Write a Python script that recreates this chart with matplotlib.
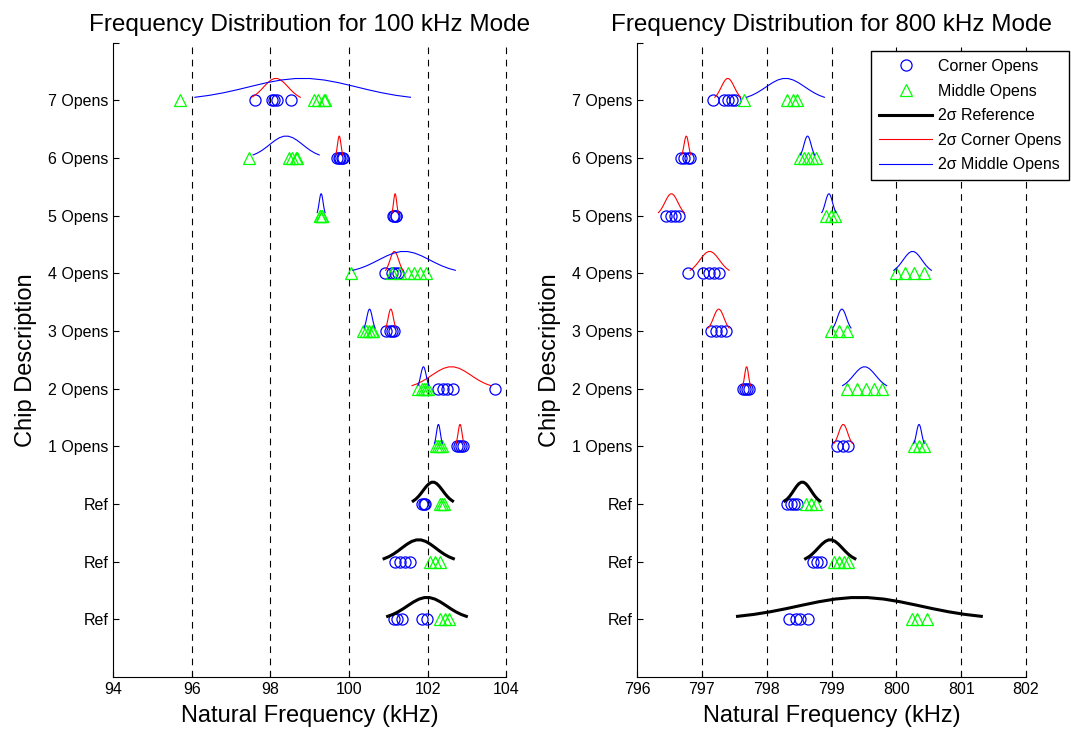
import numpy as np
import matplotlib
matplotlib.use("Agg")
import matplotlib.pyplot as plt
from matplotlib.lines import Line2D

plt.rcParams["font.family"] = ["Liberation Sans", "DejaVu Sans"]

# rows from the bottom: three reference chips, then 1..7 opens
row_labels = ["Ref", "Ref", "Ref", "1 Opens", "2 Opens", "3 Opens",
              "4 Opens", "5 Opens", "6 Opens", "7 Opens"]

# ---- 100 kHz mode (kHz), one list per row ----
corner_100 = [
    [101.13, 101.23, 101.34, 101.85, 101.98],
    [101.17, 101.30, 101.42, 101.55],
    [101.85, 101.90, 101.93],
    [102.75, 102.80, 102.85, 102.90],
    [102.27, 102.38, 102.48, 102.65, 103.71],
    [100.95, 101.05, 101.10, 101.15],
    [100.92, 101.10, 101.17, 101.25],
    [101.12, 101.15, 101.18, 101.20],
    [99.70, 99.75, 99.78, 99.82, 99.85],
    [97.61, 98.05, 98.10, 98.17, 98.52],
]
middle_100 = [
    [102.31, 102.44, 102.53],
    [102.06, 102.19, 102.32],
    [102.30, 102.36, 102.42],
    [102.20, 102.25, 102.30, 102.35],
    [101.75, 101.85, 101.90, 101.95, 102.00],
    [100.35, 100.42, 100.50, 100.58, 100.62],
    [100.06, 101.10, 101.30, 101.50, 101.65, 101.80, 101.95],
    [99.25, 99.27, 99.30, 99.32],
    [97.45, 98.47, 98.55, 98.64, 98.68],
    [95.70, 99.10, 99.20, 99.35, 99.40],
]
ref_mean_100 = [101.98, 101.77, 102.13]
ref_sigma_100 = [0.50, 0.44, 0.25]
corner_mean_100 = [102.82, 102.60, 101.06, 101.15, 101.17, 99.75, 98.14]
corner_sigma_100 = [0.05, 0.50, 0.065, 0.11, 0.04, 0.045, 0.31]
middle_mean_100 = [102.27, 101.89, 100.52, 101.40, 99.29, 98.40, 98.82]
middle_sigma_100 = [0.05, 0.07, 0.07, 0.65, 0.05, 0.42, 1.37]

# ---- 800 kHz mode (kHz) ----
corner_800 = [
    [798.34, 798.45, 798.52, 798.63],
    [798.72, 798.78, 798.84],
    [798.31, 798.37, 798.42, 798.47],
    [799.09, 799.17, 799.25],
    [797.63, 797.66, 797.70, 797.73],
    [797.14, 797.22, 797.29, 797.38],
    [796.78, 797.01, 797.11, 797.19, 797.27],
    [796.45, 796.52, 796.58, 796.65],
    [796.68, 796.73, 796.78, 796.82],
    [797.17, 797.34, 797.41, 797.46, 797.51],
]
middle_800 = [
    [800.24, 800.32, 800.48],
    [799.04, 799.11, 799.19, 799.25],
    [798.60, 798.68, 798.76],
    [800.27, 800.35, 800.42],
    [799.24, 799.40, 799.53, 799.65, 799.78],
    [798.99, 799.11, 799.24],
    [799.99, 800.14, 800.27, 800.42],
    [798.91, 798.99, 799.06],
    [798.52, 798.58, 798.64, 798.70, 798.76],
    [797.65, 798.32, 798.40, 798.47],
]
ref_mean_800 = [799.43, 798.98, 798.55]
ref_sigma_800 = [0.94, 0.19, 0.135]
corner_mean_800 = [799.18, 797.69, 797.26, 797.12, 796.53, 796.76, 797.40]
corner_sigma_800 = [0.07, 0.03, 0.08, 0.15, 0.10, 0.035, 0.10]
middle_mean_800 = [800.35, 799.51, 799.16, 800.25, 798.96, 798.63, 798.29]
middle_sigma_800 = [0.04, 0.17, 0.07, 0.145, 0.055, 0.055, 0.30]

PEAK = 0.38


def draw_bell(ax, row, mean, sigma, color, lw):
    x = np.linspace(mean - 2 * sigma, mean + 2 * sigma, 16)
    y = row + PEAK * np.exp(-0.5 * ((x - mean) / sigma) ** 2)
    ax.plot(x, y, color=color, lw=lw, zorder=4)


def draw_panel(ax, corner, middle, ref_mean, ref_sigma, corner_mean,
               corner_sigma, middle_mean, middle_sigma, xlim, xticks, title):
    for i, (c, m) in enumerate(zip(corner, middle)):
        row = i + 1
        ax.plot(c, [row] * len(c), "o", ms=8, mfc="none", mec="b", mew=0.9, zorder=3)
        ax.plot(m, [row] * len(m), "^", ms=9, mfc="none", mec="#00ff00", mew=0.9, zorder=3)

    for i, (mu, s) in enumerate(zip(ref_mean, ref_sigma)):
        draw_bell(ax, i + 1, mu, s, "k", 2.2)
    for i, (mu, s) in enumerate(zip(corner_mean, corner_sigma)):
        draw_bell(ax, i + 4, mu, s, "r", 0.8)
    for i, (mu, s) in enumerate(zip(middle_mean, middle_sigma)):
        draw_bell(ax, i + 4, mu, s, "b", 0.8)

    ax.set_xlim(*xlim)
    ax.set_ylim(0, 11)
    ax.set_xticks(xticks)
    ax.set_yticks(list(range(1, 12)))
    ax.set_yticklabels(row_labels + [""])
    # dashed grid, the one on the right edge is kept whole
    for x in xticks[1:]:
        ax.axvline(x, color="k", lw=0.8, ls=(0, (6, 5)), zorder=1, clip_on=False)
    ax.spines["top"].set_visible(False)
    ax.spines["right"].set_visible(False)
    ax.tick_params(direction="in", length=4, labelsize=11.5, width=0.8)
    ax.set_title(title, fontsize=17.5, pad=8)
    ax.set_xlabel("Natural Frequency (kHz)", fontsize=17, labelpad=6)
    ax.set_ylabel("Chip Description", fontsize=17, labelpad=8)


fig = plt.figure(figsize=(10.71, 7.34), dpi=100)
ax1 = fig.add_axes([0.1055, 0.0777, 0.3674, 0.8643])
ax2 = fig.add_axes([0.5948, 0.0777, 0.3632, 0.8643])

draw_panel(ax1, corner_100, middle_100, ref_mean_100, ref_sigma_100,
           corner_mean_100, corner_sigma_100, middle_mean_100, middle_sigma_100,
           (94, 104), [94, 96, 98, 100, 102, 104],
           "Frequency Distribution for 100 kHz Mode")
draw_panel(ax2, corner_800, middle_800, ref_mean_800, ref_sigma_800,
           corner_mean_800, corner_sigma_800, middle_mean_800, middle_sigma_800,
           (796, 802), [796, 797, 798, 799, 800, 801, 802],
           "Frequency Distribution for 800 kHz Mode")

handles = [
    Line2D([], [], ls="none", marker="o", ms=8, mfc="none", mec="b", mew=0.9),
    Line2D([], [], ls="none", marker="^", ms=9, mfc="none", mec="#00ff00", mew=0.9),
    Line2D([], [], color="k", lw=2.2),
    Line2D([], [], color="r", lw=0.8),
    Line2D([], [], color="b", lw=0.8),
]
labels = ["Corner Opens", "Middle Opens", "2\u03c3 Reference",
          "2\u03c3 Corner Opens", "2\u03c3 Middle Opens"]
leg = fig.legend(handles, labels, loc="upper right",
                 bbox_to_anchor=(1069 / 1071, 1 - 51 / 734),
                 fontsize=11.5, frameon=True, fancybox=False, framealpha=1,
                 edgecolor="k", borderaxespad=0, handlelength=3.3,
                 handletextpad=0.35, labelspacing=0.6, borderpad=0.5)
leg.get_frame().set_linewidth(1.0)

fig.savefig("out.png", dpi=100)
